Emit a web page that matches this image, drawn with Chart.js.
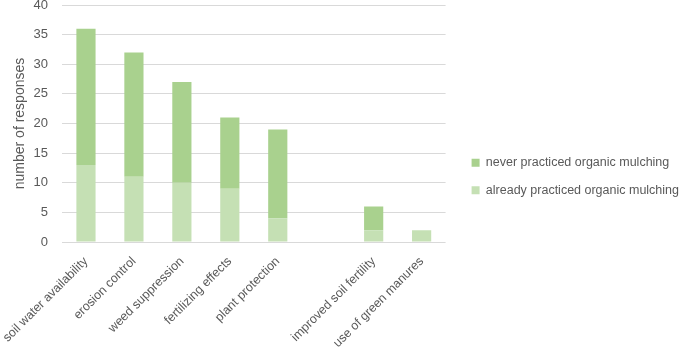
<!DOCTYPE html>
<html><head><meta charset="utf-8">
<script src="https://cdn.jsdelivr.net/npm/chart.js@4/dist/chart.umd.min.js"></script>
<style>html,body{margin:0;padding:0;background:#fff;}#wrap{width:685px;height:348px;}</style>
</head><body><div id="wrap"><canvas id="c" width="685" height="348"></canvas></div>
<script>
const categories = ["soil water availability","erosion control","weed suppression","fertilizing effects","plant protection","","improved soil fertility","use of green manures"];
const neverPracticed = [23,21,17,12,15,0,4,0];
const alreadyPracticed = [13,11,10,9,4,0,2,2];
const yTicks = [0,5,10,15,20,25,30,35,40];
const FONT = "'Liberation Sans', Arial, sans-serif";
const GREY = '#595959';
const legendShift = {
  id: 'legendShift',
  afterLayout(chart) { const l = chart.legend; if (l) { l.left += 11; l.right += 11; } }
};
new Chart(document.getElementById('c'), {
  type: 'bar',
  data: {
    labels: categories,
    datasets: [
      {label: 'already practiced organic mulching', data: alreadyPracticed, backgroundColor: '#c5e0b4'},
      {label: 'never practiced organic mulching', data: neverPracticed, backgroundColor: '#a9d18e'}
    ]
  },
  plugins: [legendShift],
  options: {
    responsive: false, animation: false,
    layout: {padding: {left: 12, right: 7, top: 5, bottom: 0}},
    datasets: {bar: {barPercentage: 0.4, categoryPercentage: 1}},
    plugins: {
      legend: {
        position: 'right', reverse: true, maxWidth: 237,
        labels: {boxWidth: 8, boxHeight: 8, padding: 15, color: GREY, font: {family: FONT, size: 12.5}}
      },
      tooltip: {enabled: false}
    },
    scales: {
      x: {
        stacked: true,
        grid: {display: false},
        border: {display: false},
        ticks: {minRotation: 45, maxRotation: 45, padding: 4, color: GREY, font: {family: FONT, size: 12.5}, autoSkip: false},
        afterFit: (s) => { s.paddingLeft = 0; s.paddingRight = 0; s.height = 106; }
      },
      y: {
        stacked: true, min: 0, max: 40,
        afterBuildTicks: (s) => { s.ticks = yTicks.map(v => ({value: v})); },
        afterFit: (s) => { s.paddingTop = 0; s.paddingBottom = 0; s.width = 50; },
        grid: {color: '#d9d9d9', lineWidth: 1, drawTicks: false},
        border: {display: false},
        ticks: {padding: 14, color: GREY, font: {family: FONT, size: 13}},
        title: {display: true, text: 'number of responses', color: GREY, font: {family: FONT, size: 14}, padding: {top: 0, bottom: 0}}
      }
    }
  }
});
</script></body></html>
